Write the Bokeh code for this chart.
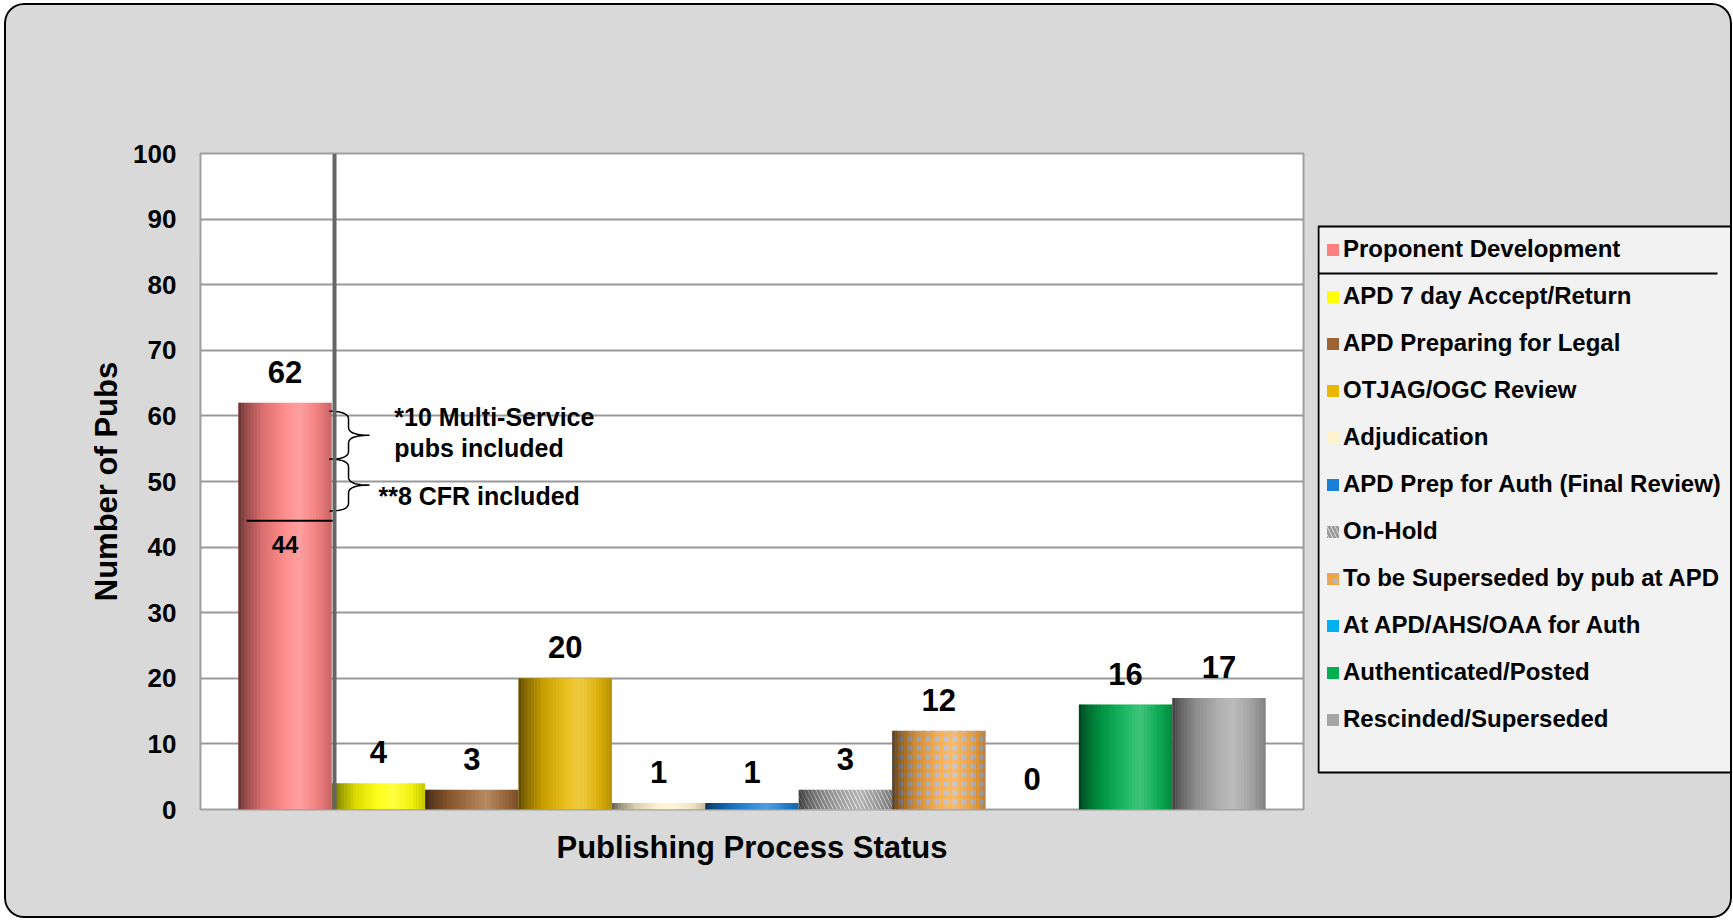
import numpy as np
from bokeh.plotting import figure
from bokeh.layouts import row
from bokeh.models import (ColumnDataSource, Range1d, FixedTicker, Span, Legend,
                          LegendItem, InlineStyleSheet)
from bokeh.core.properties import value
from bokeh.embed import file_html
from bokeh.resources import INLINE

# ---------------- data ----------------
categories = [
    "Proponent Development",
    "APD 7 day Accept/Return",
    "APD Preparing for Legal",
    "OTJAG/OGC Review",
    "Adjudication",
    "APD Prep for Auth (Final Review)",
    "On-Hold",
    "To be Superseded by pub at APD",
    "At APD/AHS/OAA for Auth",
    "Authenticated/Posted",
    "Rescinded/Superseded",
]
counts = [62, 4, 3, 20, 1, 1, 3, 12, 0, 16, 17]
proponent_core = 44          # split line inside the first bar
y_ticks = [0, 10, 20, 30, 40, 50, 60, 70, 80, 90, 100]
note_multi = ["*10 Multi-Service", "pubs included"]
note_cfr = "**8 CFR included"
brace_spans = [(53.4, 60.7), (45.5, 53.4)]   # y extents of the two braces

# ---------------- styles ----------------
bar_colors = ["#ff8080", "#ffff00", "#9c6434", "#e8b800", "#fff2cc", "#1a7fd6",
              "#ffffff", "#b4b6c4", "#00b0f0", "#00b050", "#a6a6a6"]
hatch_patterns = [None, None, None, None, None, None, "\\", "+", None, None, None]
hatch_colors = [None, None, None, None, None, None, "#9a9a9a", "#f7a53a", None, None, None]
hatch_weights = [0, 0, 0, 0, 0, 0, 3, 4, 0, 0, 0]
hatch_scales = [0, 0, 0, 0, 0, 0, 8, 9, 0, 0, 0]
FONT = "Liberation Sans"
BG = "#d9d9d9"

xs = list(range(len(categories)))

def bar_style(i):
    kw = dict(fill_color=bar_colors[i], line_color=None)
    if hatch_patterns[i]:
        kw.update(hatch_pattern=hatch_patterns[i], hatch_color=hatch_colors[i],
                  hatch_weight=hatch_weights[i], hatch_scale=hatch_scales[i])
    return kw

# ---------------- main chart ----------------
p = figure(x_range=Range1d(-0.905, len(categories) - 1 + 0.905),
           y_range=Range1d(0, 100),
           frame_width=1103, frame_height=656,
           min_border_left=200, min_border_right=6,
           min_border_top=153, min_border_bottom=111,
           output_backend="svg", toolbar_location=None)

p.border_fill_color = BG
p.background_fill_color = "white"
p.outline_line_color = "#a0a0a0"
p.outline_line_width = 2

p.yaxis.ticker = FixedTicker(ticks=y_ticks)
p.yaxis.major_tick_line_color = None
p.yaxis.minor_tick_line_color = None
p.yaxis.axis_line_color = None
p.yaxis.major_label_standoff = 18
p.yaxis.major_label_text_font = FONT
p.yaxis.major_label_text_font_style = "bold"
p.yaxis.major_label_text_font_size = "26px"
p.yaxis.major_label_text_color = "black"
p.yaxis.axis_label = "Number of Pubs"
p.yaxis.axis_label_standoff = 6

p.xaxis.ticker = FixedTicker(ticks=[])
p.xaxis.major_tick_line_color = None
p.xaxis.minor_tick_line_color = None
p.xaxis.axis_line_color = None
p.xaxis.major_label_text_font_size = "0px"
p.xaxis.axis_label = "Publishing Process Status"
p.xaxis.axis_label_standoff = 20

for ax in (p.xaxis, p.yaxis):
    ax.axis_label_text_font = FONT
    ax.axis_label_text_font_style = "bold"
    ax.axis_label_text_font_size = "31px"
    ax.axis_label_text_color = "black"

p.xgrid.grid_line_color = None
p.ygrid.grid_line_color = "#999999"
p.ygrid.grid_line_width = 2

for i, v in enumerate(counts):
    p.vbar(x=[xs[i]], top=[v], bottom=0, width=1.0, **bar_style(i))

# cylinder-like shading strips
N = 30
tp = [0.0, 0.08, 0.25, 0.5, 0.66, 0.85, 1.0]
dark = [0.62, 0.42, 0.15, 0.0, 0.0, 0.06, 0.22]
light = [0.0, 0.0, 0.0, 0.12, 0.25, 0.06, 0.0]
sx, stop, sdark, slight = [], [], [], []
for i, v in zip(xs, counts):
    if v <= 0:
        continue
    for k in range(N):
        t = (k + 0.5) / N
        sx.append(i - 0.5 + t)
        stop.append(v)
        sdark.append(float(np.interp(t, tp, dark)))
        slight.append(float(np.interp(t, tp, light)))
strips = ColumnDataSource(dict(x=sx, top=stop, dark=sdark, light=slight))
p.vbar(x="x", top="top", bottom=0, width=1.0 / N, source=strips,
       fill_color="black", fill_alpha="dark", line_color=None)
p.vbar(x="x", top="top", bottom=0, width=1.0 / N, source=strips,
       fill_color="white", fill_alpha="light", line_color=None)

# separator between Proponent Development and the rest
p.add_layout(Span(location=0.53, dimension="height", line_color="#666666",
                  line_width=4))

# split line inside first bar and its label
p.segment(x0=[xs[0] - 0.41], x1=[xs[0] + 0.52], y0=[proponent_core],
          y1=[proponent_core], line_color="black", line_width=2)
p.text(x=[xs[0]], y=[proponent_core], text=[str(proponent_core)], y_offset=24,
       text_align="center", text_baseline="middle", text_font=value(FONT),
       text_font_style="bold", text_font_size="24px", text_color="black")

# value labels
p.text(x=xs, y=counts, text=[str(c) for c in counts], y_offset=-31,
       text_align="center", text_baseline="middle", text_font=value(FONT),
       text_font_style="bold", text_font_size="31px", text_color="black")

# braces
def quad(p0, c, p1, n=14):
    t = np.linspace(0, 1, n)
    return (1 - t) ** 2 * p0 + 2 * (1 - t) * t * c + t ** 2 * p1

def brace(yb, yt, x0=0.476, x1=0.68, xt=0.905, r=1.2):
    ym = (yt + yb) / 2
    X, Y = [], []
    X += list(quad(x0, x1, x1)); Y += list(quad(yt, yt, yt - r))
    X += [x1]; Y += [ym + r]
    X += list(quad(x1, x1, xt)); Y += list(quad(ym + r, ym, ym))
    X += list(quad(xt, x1, x1)); Y += list(quad(ym, ym, ym - r))
    X += [x1]; Y += [yb + r]
    X += list(quad(x1, x1, x0)); Y += list(quad(yb + r, yb, yb))
    return X, Y

bx, by = [], []
for yb, yt in brace_spans:
    X, Y = brace(yb, yt)
    bx.append(X); by.append(Y)
p.multi_line(xs=bx, ys=by, line_color="black", line_width=1.5)

p.text(x=[1.17, 1.17], y=[59.8, 55.1], text=note_multi, text_align="left",
       text_baseline="middle", text_font=value(FONT), text_font_style="bold",
       text_font_size="25px", text_color="black")
p.text(x=[1.0], y=[47.8], text=[note_cfr], text_align="left",
       text_baseline="middle", text_font=value(FONT), text_font_style="bold",
       text_font_size="25px", text_color="black")

# ---------------- legend panel (same vertical frame as the chart) ----------------
lg = figure(x_range=Range1d(0, 416), y_range=Range1d(0, 656),
            frame_width=416, frame_height=656,
            min_border_left=8, min_border_right=0,
            min_border_top=153, min_border_bottom=111,
            x_axis_type=None, y_axis_type=None,
            output_backend="svg", toolbar_location=None)
lg.border_fill_color = BG
lg.background_fill_color = BG
lg.outline_line_color = None
lg.grid.visible = False

# legend box and the separator under its first entry
lg.quad(left=[1], right=[430], bottom=[37], top=[583],
        fill_color="#f2f2f2", line_color="black", line_width=2)
lg.segment(x0=[1], x1=[400], y0=[536], y1=[536], line_color="black", line_width=2)

swatches = []
for i, v in enumerate(counts):
    r = lg.vbar(x=[xs[i]], top=[v], bottom=0, width=1.0, **bar_style(i))
    r.visible = False
    swatches.append(r)

legend = Legend(items=[LegendItem(label=c, renderers=[r])
                       for c, r in zip(categories, swatches)],
                location=(0, 67), orientation="vertical",
                label_text_font=FONT, label_text_font_style="bold",
                label_text_font_size="24px", label_text_color="black",
                glyph_width=15, glyph_height=15, label_standoff=3,
                label_height=30, spacing=17, padding=8, margin=0,
                background_fill_alpha=0, border_line_alpha=0)
lg.add_layout(legend)

layout = row(p, lg, spacing=0)
layout.stylesheets = [InlineStyleSheet(css="""
:host {
  position: relative;
  background-color: #d9d9d9;
  clip-path: inset(3px 1px 2px 4px round 20px);
}
:host::after {
  content: "";
  position: absolute;
  left: 4px; top: 3px; right: 1px; bottom: 2px;
  border: 2px solid black;
  border-radius: 20px;
  pointer-events: none;
  z-index: 100;
}
""")]

open("out.html", "w").write(file_html(layout, INLINE))
